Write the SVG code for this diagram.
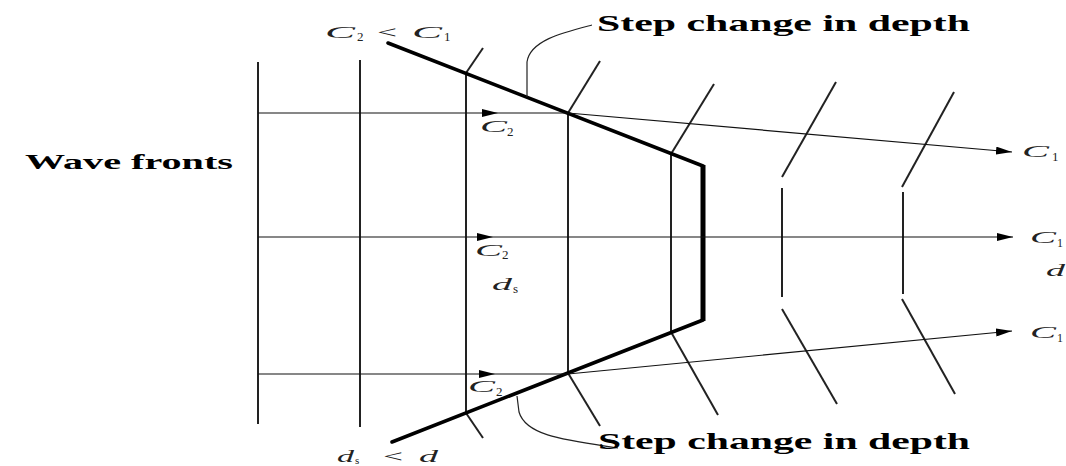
<svg xmlns="http://www.w3.org/2000/svg" width="1066" height="466" viewBox="0 0 1066 466">
<style>
.wf{stroke:#222;stroke-width:2;fill:none}
.sl{stroke:#222;stroke-width:2;fill:none}
.ray{stroke:#111;stroke-width:1.2;fill:none}
.bd{stroke:#000;stroke-width:3.5;fill:none;stroke-linecap:round}
.lead{stroke:#222;stroke-width:1.2;fill:none}
.lbl{font-family:"Liberation Serif",serif;font-weight:bold;fill:#000}
.m{font-family:"Liberation Serif",serif;font-style:italic;font-weight:normal;fill:#222}
.n{font-style:normal}
</style>
<defs>
<marker id="arr" viewBox="0 0 16 8" refX="16" refY="4" markerWidth="16" markerHeight="8" markerUnits="userSpaceOnUse" orient="auto">
<path d="M0,0 L16,4 L0,8 z" fill="#000"/>
</marker>
</defs>
<rect width="1066" height="466" fill="#fff"/>

<g id="wavefronts-straight">
<line class="wf" x1="258" y1="62" x2="258" y2="424"/>
<line class="wf" x1="360" y1="60" x2="360" y2="427"/>
<line class="wf" x1="466" y1="73" x2="466" y2="413"/>
<line class="wf" x1="568" y1="113" x2="568" y2="373"/>
<line class="wf" x1="671" y1="154" x2="671" y2="332"/>
</g>

<g id="wavefronts-refracted">
<line class="sl" x1="466" y1="73" x2="483" y2="48"/>
<line class="sl" x1="568" y1="113" x2="600" y2="61"/>
<line class="sl" x1="671" y1="154" x2="714" y2="84"/>
<line class="sl" x1="466" y1="413" x2="483" y2="438"/>
<line class="sl" x1="568" y1="373" x2="600" y2="426"/>
<line class="sl" x1="671" y1="332" x2="718" y2="415"/>
<line class="sl" x1="782" y1="177" x2="836" y2="82"/>
<line class="sl" x1="782" y1="188" x2="782" y2="297"/>
<line class="sl" x1="782" y1="309" x2="837" y2="404"/>
<line class="sl" x1="902" y1="187" x2="954" y2="92"/>
<line class="sl" x1="903" y1="192" x2="903" y2="294"/>
<line class="sl" x1="902" y1="299" x2="955" y2="394"/>
</g>

<g id="step-boundary">
<polyline class="bd" points="388,43 703,166"/>
<polyline class="bd" points="703,320 392,442"/>
<line x1="703" y1="165" x2="703" y2="321" stroke="#000" stroke-width="5"/>
</g>

<g id="connectors">
<line class="ray" x1="258" y1="113" x2="498" y2="113" marker-end="url(#arr)"/>
<line class="ray" x1="498" y1="113" x2="568" y2="113"/>
<line class="ray" x1="568" y1="113" x2="1012" y2="152" marker-end="url(#arr)"/>
<line class="ray" x1="258" y1="237" x2="493" y2="237" marker-end="url(#arr)"/>
<line class="ray" x1="493" y1="237" x2="1013" y2="237" marker-end="url(#arr)"/>
<line class="ray" x1="258" y1="374" x2="495" y2="374" marker-end="url(#arr)"/>
<line class="ray" x1="495" y1="374" x2="568" y2="374"/>
<line class="ray" x1="568" y1="374" x2="1012" y2="331" marker-end="url(#arr)"/>
<path class="lead" d="M592,25 C565,32 530,40 527,62 L527,97"/>
<path class="lead" d="M517,396 L519,412 C526,436 565,440 618,448"/>
</g>

<g id="label-wave-fronts">
<text class="lbl" x="25" y="169" font-size="22" textLength="208" lengthAdjust="spacingAndGlyphs">Wave fronts</text>
</g>

<g id="label-step-top">
<text class="lbl" x="597" y="31" font-size="23" textLength="373" lengthAdjust="spacingAndGlyphs">Step change in depth</text>
</g>

<g id="label-step-bottom">
<text class="lbl" x="598" y="449" font-size="23" textLength="372" lengthAdjust="spacingAndGlyphs">Step change in depth</text>
</g>

<g id="label-c2-lt-c1">
<text class="m" x="325" y="38" font-size="17" textLength="30" lengthAdjust="spacingAndGlyphs">C</text>
<text class="m n" x="357" y="41" font-size="13">2</text>
<text class="m n" x="377" y="38" font-size="17" textLength="20" lengthAdjust="spacingAndGlyphs">&lt;</text>
<text class="m" x="412" y="38" font-size="17" textLength="30" lengthAdjust="spacingAndGlyphs">C</text>
<text class="m n" x="444" y="41" font-size="13">1</text>
</g>

<g id="label-c2-top">
<text class="m" x="480" y="132" font-size="17" textLength="27" lengthAdjust="spacingAndGlyphs">C</text>
<text class="m n" x="507" y="136" font-size="13">2</text>
</g>

<g id="label-c2-mid">
<text class="m" x="475" y="256" font-size="17" textLength="27" lengthAdjust="spacingAndGlyphs">C</text>
<text class="m n" x="502" y="259" font-size="13">2</text>
</g>

<g id="label-ds-mid">
<text class="m" x="492" y="290" font-size="17" textLength="20" lengthAdjust="spacingAndGlyphs">d</text>
<text class="m n" x="513" y="293" font-size="13">s</text>
</g>

<g id="label-c2-bot">
<text class="m" x="468" y="392" font-size="17" textLength="27" lengthAdjust="spacingAndGlyphs">C</text>
<text class="m n" x="496" y="396" font-size="13">2</text>
</g>

<g id="label-c1-top">
<text class="m" x="1022" y="157" font-size="17" textLength="27" lengthAdjust="spacingAndGlyphs">C</text>
<text class="m n" x="1052" y="161" font-size="13">1</text>
</g>

<g id="label-c1-mid">
<text class="m" x="1030" y="243" font-size="17" textLength="26" lengthAdjust="spacingAndGlyphs">C</text>
<text class="m n" x="1057" y="247" font-size="12">1</text>
</g>

<g id="label-d-right">
<text class="m" x="1046" y="276" font-size="17" textLength="19" lengthAdjust="spacingAndGlyphs">d</text>
</g>

<g id="label-c1-bot">
<text class="m" x="1030" y="338" font-size="17" textLength="26" lengthAdjust="spacingAndGlyphs">C</text>
<text class="m n" x="1057" y="342" font-size="12">1</text>
</g>

<g id="label-ds-lt-d">
<text class="m" x="337" y="462" font-size="17" textLength="17" lengthAdjust="spacingAndGlyphs">d</text>
<text class="m n" x="355" y="464" font-size="11">s</text>
<text class="m n" x="383" y="462" font-size="17" textLength="20" lengthAdjust="spacingAndGlyphs">&lt;</text>
<text class="m" x="419" y="462" font-size="17" textLength="19" lengthAdjust="spacingAndGlyphs">d</text>
</g>
</svg>
